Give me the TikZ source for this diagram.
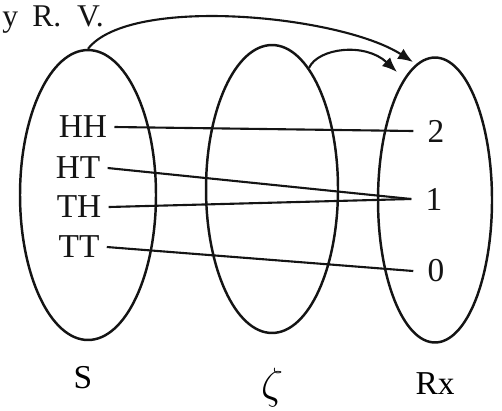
\documentclass[tikz,border=0pt]{standalone}
\usepackage{fontspec}
\setmainfont{Liberation Serif}
\usetikzlibrary{arrows.meta,shapes.geometric}
\definecolor{rvink}{RGB}{20,20,20}
\tikzset{
  rvset/.style={
    draw=rvink, ellipse, line width=1.4pt, inner sep=0pt
  },
  rvlbl/.style={inner ysep=0pt, inner xsep=4pt, text=rvink},
  rvval/.style={inner ysep=0pt, inner xsep=8pt, text=rvink},
  rvmap/.style={draw=rvink, line width=1.2pt},
  rvarr/.style={-{Latex[length=3mm,width=2.4mm]}, draw=rvink, line width=1.2pt},
  every picture/.append style={font=\fontsize{19}{23}\selectfont, line join=round}
}

\begin{document}
\begin{tikzpicture}[x=0.02cm, y=-0.02cm]
  \useasboundingbox (0,0) rectangle (502,410);
  \clip (0,0) rectangle (502,410);
  \node[anchor=base west, text=rvink, inner sep=0pt, font=\fontsize{18}{22}\selectfont] (cap) at (2,26) {y\hspace{0.45em}R.\hspace{0.5em}V.};
  \node[rvset, minimum width=2.72cm, minimum height=5.8cm] (sset) at (88,195) {};
  \node[rvset, minimum width=2.64cm, minimum height=5.76cm] (zset) at (272,189) {};
  \node[rvset, minimum width=2.28cm, minimum height=5.7cm] (rset) at (435,200) {};
  \node[rvlbl] (hh) at (83,127) {HH};
  \node[rvlbl] (ht) at (78,168) {HT};
  \node[rvlbl] (th) at (79,207) {TH};
  \node[rvlbl] (tt) at (79,247) {TT};
  \node[rvval] (two) at (436,131) {2};
  \node[rvval] (one) at (434,199) {1};
  \node[rvval] (zero) at (436,271) {0};
  \draw[rvmap] (hh.east) -- (two.west);
  \draw[rvmap] (ht.east) -- (one.west);
  \draw[rvmap] (th.east) -- (one.west);
  \draw[rvmap] (tt.east) -- (zero.west);
  \coordinate (tipa) at (413,62);
  \coordinate (tipb) at (397,72);
  \draw[rvarr] (sset.north) .. controls (130,-5) and (340,15) .. (tipa);
  \draw[rvarr] (zset.73) .. controls (318,48) and (365,42) .. (tipb);
  \node (slab) at (83,378) {S};
  \node[font=\fontsize{25}{28}\selectfont] (zlab) at (272,388) {$\zeta$};
  \node (rlab) at (435,384) {Rx};
\end{tikzpicture}
\end{document}
